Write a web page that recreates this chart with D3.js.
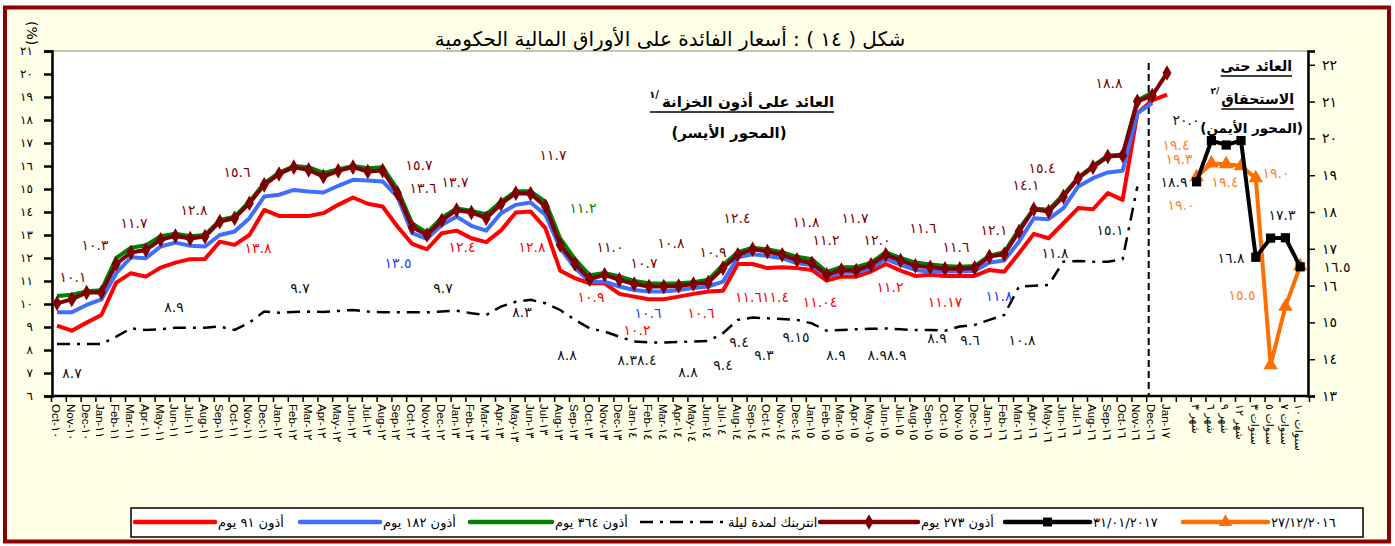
<!DOCTYPE html>
<html>
<head>
<meta charset="utf-8">
<script src="https://cdn.jsdelivr.net/npm/d3@7"></script>
<style>
  body { margin: 0; background: #fff; }
  svg { display: block; }
  text { font-family: "DejaVu Sans", sans-serif; }
</style>
</head>
<body>
<div id="chart"></div>
<script>
// ---- data ----
var months = [
  "Oct-١٠","Nov-١٠","Dec-١٠",
  "Jan-١١","Feb-١١","Mar-١١","Apr-١١","May-١١","Jun-١١","Jul-١١","Aug-١١","Sep-١١","Oct-١١","Nov-١١","Dec-١١",
  "Jan-١٢","Feb-١٢","Mar-١٢","Apr-١٢","May-١٢","Jun-١٢","Jul-١٢","Aug-١٢","Sep-١٢","Oct-١٢","Nov-١٢","Dec-١٢",
  "Jan-١٣","Feb-١٣","Mar-١٣","Apr-١٣","May-١٣","Jun-١٣","Jul-١٣","Aug-١٣","Sep-١٣","Oct-١٣","Nov-١٣","Dec-١٣",
  "Jan-١٤","Feb-١٤","Mar-١٤","Apr-١٤","May-١٤","Jun-١٤","Jul-١٤","Aug-١٤","Sep-١٤","Oct-١٤","Nov-١٤","Dec-١٤",
  "Jan-١٥","Feb-١٥","Mar-١٥","Apr-١٥","May-١٥","Jun-١٥","Jul-١٥","Aug-١٥","Sep-١٥","Oct-١٥","Nov-١٥","Dec-١٥",
  "Jan-١٦","Feb-١٦","Mar-١٦","Apr-١٦","May-١٦","Jun-١٦","Jul-١٦","Aug-١٦","Sep-١٦","Oct-١٦","Nov-١٦","Dec-١٦",
  "Jan-١٧"
];

// yield-curve maturities (right panel)
var maturities = ["شهر ٣","شهر ٦","شهر ٩","شهر ١٢","سنوات ٣","سنوات ٥","سنوات ٧","سنوات ١٠"];

// treasury bills (left axis, %)
var bill91 = [9.06,8.84,9.19,9.52,10.93,11.34,11.19,11.58,11.8,11.95,11.96,12.71,12.57,13.0,14.09,13.83,13.83,13.83,13.95,14.31,
  14.63,14.36,14.24,13.37,12.61,12.38,13.08,13.19,12.86,12.69,13.2,13.98,14.02,13.3,11.45,11.12,10.9,10.9,10.44,10.32,
  10.21,10.21,10.32,10.44,10.54,10.58,11.74,11.74,11.56,11.6,11.56,11.48,11.02,11.19,11.19,11.41,11.74,11.45,11.22,11.27,
  11.22,11.22,11.22,11.48,11.4,12.21,13.05,12.86,13.51,14.17,14.12,14.82,14.53,18.3,18.85,19.1];
var bill182 = [9.64,9.64,9.96,10.2,11.34,12.03,11.99,12.5,12.67,12.53,12.5,13.0,13.15,13.73,14.67,14.75,14.96,14.89,14.85,15.14,
  15.4,15.37,15.33,14.67,13.08,12.83,13.44,13.8,13.4,13.19,13.95,14.31,14.41,13.88,12.43,11.56,10.97,10.97,10.76,10.61,
  10.54,10.54,10.61,10.69,10.76,10.97,12.03,12.16,12.09,11.99,11.77,11.7,11.19,11.37,11.37,11.56,11.95,11.7,11.48,11.4,
  11.41,11.41,11.43,11.8,11.89,12.71,13.73,13.69,14.17,15.11,15.47,15.72,15.79,18.3,18.73,null];
var bill364 = [10.35,10.4,10.55,10.6,12.0,12.45,12.55,12.95,13.05,12.95,13.0,13.65,13.8,14.45,15.25,15.7,16.0,15.95,15.7,15.85,
  16.0,15.9,15.95,15.0,13.5,13.1,13.75,14.15,14.05,13.9,14.45,14.9,14.9,14.45,12.85,11.95,11.25,11.35,11.2,11.0,
  10.9,10.88,10.9,10.95,11.05,11.7,12.25,12.45,12.38,12.25,12.05,11.95,11.4,11.6,11.6,11.8,12.25,12.0,11.8,11.72,
  11.65,11.62,11.65,12.1,12.25,13.25,14.15,14.1,14.75,15.5,16.0,16.45,16.5,18.85,19.2,null];
var bill273 = [10.03,10.2,10.5,10.5,11.74,12.24,12.35,12.79,12.96,12.85,12.93,13.58,13.73,14.38,15.18,15.65,15.95,15.83,15.54,15.79,
  15.95,15.76,15.8,14.82,13.34,13.0,13.63,14.09,13.98,13.73,14.35,14.82,14.79,14.24,12.57,11.74,11.08,11.27,11.05,10.87,
  10.76,10.76,10.78,10.87,10.93,11.56,12.14,12.38,12.28,12.14,11.92,11.77,11.27,11.48,11.45,11.7,12.14,11.89,11.66,11.6,
  11.53,11.53,11.57,12.06,12.16,13.15,14.12,14.02,14.67,15.47,15.95,16.41,16.46,18.81,19.06,20.04];
var overnight = [8.26,8.26,8.26,8.26,8.58,8.94,8.87,8.9,8.97,8.97,8.97,9.02,8.87,9.19,9.67,9.62,9.65,9.67,9.65,9.7,
  9.74,9.67,9.64,9.64,9.64,9.64,9.67,9.71,9.6,9.52,9.89,10.1,10.18,10.03,9.74,9.31,8.94,8.8,8.58,8.37,
  8.33,8.33,8.35,8.37,8.39,8.73,9.31,9.41,9.38,9.35,9.31,9.16,8.84,8.87,8.9,8.92,8.94,8.9,8.87,8.87,
  8.84,9.02,9.09,9.31,9.52,10.76,10.79,10.83,11.84,11.87,11.84,11.84,11.95,15.11,null,null];

// yield to maturity (right axis, %)
var ytmDec2016 = [18.95,19.32,19.3,19.25,18.92,13.84,15.43,16.53];
var ytmJan2017 = [18.82,19.94,19.82,19.94,16.77,17.29,17.3,16.51];

// tick values
var leftTicks = [6,7,8,9,10,11,12,13,14,15,16,17,18,19,20,21];
var rightTicks = [13,14,15,16,17,18,19,20,21,22];

// value labels: [text, colour key, category position, value, axis]
var notes = [
  ["١٠.١","dr",1.08,10.96,"L"],["١٠.٣","dr",2.57,12.35,"L"],["١١.٧","dr",5.2,13.31,"L"],
  ["١٢.٨","dr",9.26,13.88,"L"],["١٥.٦","dr",12.16,15.53,"L"],["١٣.٨","red",13.58,12.22,"L"],
  ["٨.٩","blk",7.9,9.66,"L"],["٩.٧","blk",16.42,10.48,"L"],["٨.٧","blk",1.01,6.78,"L"],
  ["١٥.٧","dr",24.46,15.83,"L"],["١٣.٦","dr",24.73,14.83,"L"],["١٣.٧","dr",26.89,15.09,"L"],
  ["١٣.٥","blue",23.04,11.57,"L"],["١٢.٤","red",27.36,12.27,"L"],["٩.٧","blk",26.08,10.48,"L"],
  ["١١.٧","dr",33.51,16.27,"L"],["١١.٢","grn",35.54,13.96,"L"],["١٢.٨","red",32.09,12.27,"L"],
  ["٨.٣","blk",31.42,9.44,"L"],["١٠.٩","red",36.08,10.09,"L"],["٨.٨","blk",34.46,7.57,"L"],
  ["١١.٠","dr",37.36,12.27,"L"],["١٠.٨","dr",41.49,12.44,"L"],["١٠.٧","dr",39.66,11.57,"L"],
  ["١٠.٩","dr",44.32,12.05,"L"],["١٠.٦","blue",39.93,9.39,"L"],["١٠.٢","red",39.19,8.65,"L"],
  ["١٠.٦","red",43.51,9.39,"L"],["٨.٣٨.٤","blk",39.19,7.35,"L"],["٨.٨","blk",42.64,6.83,"L"],
  ["٩.٤","blk",45.0,7.13,"L"],["٩.٤","blk",46.08,8.13,"L"],["٩.٣","blk",47.77,7.57,"L"],
  ["٩.١٥","blk",49.93,8.35,"L"],["١٢.٤","dr",45.95,13.53,"L"],["١١.٦١١.٤","red",47.64,10.09,"L"],
  ["١١.٠٤","red",51.55,9.87,"L"],["١١.٨","dr",50.61,13.35,"L"],["١١.٧","dr",53.92,13.53,"L"],
  ["١١.٢","dr",51.96,12.57,"L"],["١٢.٠","dr",55.41,12.57,"L"],["١١.٦","dr",58.51,13.09,"L"],
  ["١١.٢","red",56.28,10.53,"L"],["١١.١٧","red",60.0,9.87,"L"],["٨.٩","blk",52.64,7.57,"L"],
  ["٨.٩٨.٩","blk",56.08,7.57,"L"],["٨.٩","blk",59.46,8.31,"L"],["٩.٦","blk",61.69,8.22,"L"],
  ["١١.٦","dr",60.74,12.27,"L"],["١٢.١","dr",63.31,13.01,"L"],["١٥.٤","dr",66.55,15.7,"L"],
  ["١٤.١","dr",65.47,14.96,"L"],["١٨.٨","dr",71.08,19.4,"L"],["١١.٨","blue",63.65,10.13,"L"],
  ["١١.٨","blk",67.43,12.0,"L"],["١٥.١","blk",71.15,13.01,"L"],["١٠.٨","blk",65.2,8.22,"L"],
  ["٢٠.٠","blk",76.28,20.36,"R"],["١٩.٤","org",75.61,19.68,"R"],["١٩.٣","org",75.81,19.3,"R"],
  ["١٨.٩","blk",75.47,18.68,"R"],["١٩.٠","org",75.95,18.05,"R"],["١٩.٤","org",78.92,18.68,"R"],
  ["١٩.٠","org",82.36,18.92,"R"],["١٧.٣","blk",82.77,17.78,"R"],["١٦.٨","blk",79.32,16.61,"R"],
  ["١٥.٥","org",80.07,15.61,"R"],["١٦.٥","blk",86.49,16.37,"R"]
];

var legendLabels = ["أذون ٩١ يوم","أذون ١٨٢ يوم","أذون ٣٦٤ يوم","انتربنك لمدة ليلة","أذون ٢٧٣ يوم","٣١/٠١/٢٠١٧","٢٧/١٢/٢٠١٦"];

// ---- styling ----
var colors = { red: "#FF0000", blue: "#3F6FFF", grn: "#008000", dr: "#7F0000", blk: "#000000", org: "#FF6F00" };
var noteColors = { red: "#FF0000", blue: "#1F3FFF", grn: "#008000", dr: "#800000", blk: "#111111", org: "#FF7F1F" };

var svgWidth = 1395, svgHeight = 546;
var plot = { left: 52, right: 1308, top: 51, bottom: 396 };

function ar(s) { return String(s).replace(/\d/g, function (d) { return "٠١٢٣٤٥٦٧٨٩"[d]; }); }

var svg = d3.select("#chart").append("svg")
  .attr("width", svgWidth)
  .attr("height", svgHeight);

// frame
svg.append("rect")
  .attr("x", 5).attr("y", 7.5)
  .attr("width", 1384).attr("height", 534)
  .attr("fill", "#FFFFE8")
  .attr("stroke", "#8B0000")
  .attr("stroke-width", 4);

svg.append("rect")
  .attr("x", plot.left).attr("y", plot.top)
  .attr("width", plot.right - plot.left).attr("height", plot.bottom - plot.top)
  .attr("fill", "#fff")
  .attr("stroke", "#8a8a8a")
  .attr("stroke-width", 1);

// scales
var nCats = months.length + 1 + maturities.length;
var xScale = d3.scalePoint().domain(d3.range(nCats)).range([57, 1300.2]);
var step = xScale.step();
var yLeft = d3.scaleLinear().domain([6, 21]).range([plot.bottom, plot.top]);
var yRight = d3.scaleLinear().domain([13, 22.375]).range([plot.bottom, plot.top]);
function xAt(p) { return xScale(0) + p * step; }

// title
svg.append("text")
  .attr("x", 670).attr("y", 46)
  .attr("text-anchor", "middle")
  .style("font-size", "20px")
  .text("شكل ( ١٤ ) : أسعار الفائدة على الأوراق المالية الحكومية");

svg.append("text")
  .attr("transform", "translate(27,21) rotate(90)")
  .style("font-size", "14px")
  .text("(%)");

// axes
var leftAxis = d3.axisLeft(yLeft).tickValues(leftTicks).tickSize(8).tickFormat(ar);
var gL = svg.append("g").attr("transform", "translate(" + plot.left + ",0)").call(leftAxis);
gL.select(".domain").attr("stroke-width", 2.5);
gL.selectAll(".tick line").attr("stroke-width", 2.5);
gL.selectAll(".tick text").attr("x", -19).style("font-size", "12px").style("font-family", "DejaVu Sans");

var rightAxis = d3.axisRight(yRight).tickValues(rightTicks).tickSize(7).tickFormat(ar);
var gR = svg.append("g").attr("transform", "translate(" + plot.right + ",0)").call(rightAxis);
gR.select(".domain").attr("stroke-width", 2.5);
gR.selectAll(".tick line").attr("stroke-width", 1.5);
gR.selectAll(".tick text").attr("x", 14).style("font-size", "14px").style("font-family", "DejaVu Sans");

// category axis
svg.append("line")
  .attr("x1", plot.left).attr("x2", plot.right)
  .attr("y1", plot.bottom).attr("y2", plot.bottom)
  .attr("stroke", "#000").attr("stroke-width", 2.5);

svg.append("g").selectAll("line")
  .data(d3.range(nCats + 1))
  .enter().append("line")
  .attr("x1", function (d) { return xAt(d) - 5.5; })
  .attr("x2", function (d) { return xAt(d) - 5.5; })
  .attr("y1", plot.bottom).attr("y2", plot.bottom + 6)
  .attr("stroke", "#000").attr("stroke-width", 1.5);

var catLabels = months.concat([""], maturities);
svg.append("g").selectAll("text")
  .data(catLabels)
  .enter().append("text")
  .attr("transform", function (d, i) { return "translate(" + (xScale(i) - 1) + "," + (plot.bottom + 8) + ") rotate(90)"; })
  .attr("dy", "0.35em")
  .style("font-size", function (d, i) { return i < months.length ? "11.5px" : "11px"; })
  .style("font-family", function (d, i) { return i < months.length ? "Liberation Sans, Arial" : "DejaVu Sans"; })
  .text(function (d) { return d; });

// dashed divider
svg.append("line")
  .attr("x1", xScale(74) - 3.5).attr("x2", xScale(74) - 3.5)
  .attr("y1", 63).attr("y2", plot.bottom)
  .attr("stroke", "#000").attr("stroke-width", 2)
  .attr("stroke-dasharray", "7,4");

// left-axis series
var lineL = d3.line()
  .defined(function (d) { return d != null; })
  .x(function (d, i) { return xScale(i); })
  .y(function (d) { return yLeft(d); });

svg.append("path").datum(overnight)
  .attr("d", lineL).attr("fill", "none")
  .attr("stroke", "#000").attr("stroke-width", 2.5)
  .attr("stroke-dasharray", "13,7,3,7");

[[bill91, colors.red], [bill182, colors.blue], [bill364, colors.grn], [bill273, colors.dr]].forEach(function (s) {
  svg.append("path").datum(s[0])
    .attr("d", lineL).attr("fill", "none")
    .attr("stroke", s[1]).attr("stroke-width", 4)
    .attr("stroke-linejoin", "round");
});

svg.append("g").selectAll("path")
  .data(bill273.map(function (v, i) { return [i, v]; }).filter(function (d) { return d[1] != null; }))
  .enter().append("path")
  .attr("d", d3.symbol().type(d3.symbolDiamond).size(70))
  .attr("transform", function (d) { return "translate(" + xScale(d[0]) + "," + yLeft(d[1]) + ")"; })
  .attr("fill", colors.dr);

// right-axis series
var offset = months.length + 1;
var lineR = d3.line()
  .x(function (d, i) { return xScale(offset + i); })
  .y(function (d) { return yRight(d); });

[[ytmDec2016, colors.org, d3.symbolTriangle, 90], [ytmJan2017, colors.blk, d3.symbolSquare, 85]].forEach(function (s) {
  svg.append("path").datum(s[0])
    .attr("d", lineR).attr("fill", "none")
    .attr("stroke", s[1]).attr("stroke-width", 4);
  svg.append("g").selectAll("path")
    .data(s[0])
    .enter().append("path")
    .attr("d", d3.symbol().type(s[2]).size(s[3]))
    .attr("transform", function (d, i) { return "translate(" + xScale(offset + i) + "," + yRight(d) + ")"; })
    .attr("fill", s[1]);
});

// value labels
svg.append("g").selectAll("text")
  .data(notes)
  .enter().append("text")
  .attr("x", function (d) { return xAt(d[2]); })
  .attr("y", function (d) { return d[4] === "L" ? yLeft(d[3]) : yRight(d[3]); })
  .attr("text-anchor", "middle")
  .style("font-size", "14px")
  .style("letter-spacing", "1px")
  .attr("fill", function (d) { return noteColors[d[1]]; })
  .text(function (d) { return d[0]; });

// heading inside plot: bills (left axis)
var h1 = svg.append("text")
  .attr("x", 748).attr("y", 107)
  .attr("text-anchor", "middle")
  .style("font-size", "15px").style("font-weight", "bold")
  .text("العائد على أذون الخزانة");
var w1 = h1.node().getComputedTextLength();
svg.append("line")
  .attr("x1", 748 - w1 / 2 - 12).attr("x2", 748 + w1 / 2)
  .attr("y1", 112).attr("y2", 112)
  .attr("stroke", "#000").attr("stroke-width", 1.5);
svg.append("text")
  .attr("x", 748 - w1 / 2 - 3).attr("y", 98)
  .attr("text-anchor", "end")
  .style("font-size", "10px").style("font-weight", "bold")
  .text("١/");
svg.append("text")
  .attr("x", 729).attr("y", 138)
  .attr("text-anchor", "middle")
  .style("font-size", "15px").style("font-weight", "bold")
  .text("(المحور الأيسر)");

// heading inside plot: yield to maturity (right axis)
var h2 = svg.append("text")
  .attr("x", 1292).attr("y", 71)
  .attr("text-anchor", "end")
  .style("font-size", "14px").style("font-weight", "bold")
  .text("العائد حتى");
var w2 = h2.node().getComputedTextLength();
svg.append("line")
  .attr("x1", 1292 - w2).attr("x2", 1292)
  .attr("y1", 76).attr("y2", 76)
  .attr("stroke", "#000").attr("stroke-width", 1.3);
var h3 = svg.append("text")
  .attr("x", 1294).attr("y", 104)
  .attr("text-anchor", "end")
  .style("font-size", "14px").style("font-weight", "bold")
  .text("الاستحقاق");
var w3 = h3.node().getComputedTextLength();
svg.append("line")
  .attr("x1", 1294 - w3).attr("x2", 1294)
  .attr("y1", 109).attr("y2", 109)
  .attr("stroke", "#000").attr("stroke-width", 1.3);
svg.append("text")
  .attr("x", 1294 - w3 - 2).attr("y", 94)
  .attr("text-anchor", "end")
  .style("font-size", "9px").style("font-weight", "bold")
  .text("٢/");
svg.append("text")
  .attr("x", 1303).attr("y", 133)
  .attr("text-anchor", "end")
  .style("font-size", "13.5px").style("font-weight", "bold")
  .text("(المحور الأيمن)");

// legend
var legendY = 522;
svg.append("rect")
  .attr("x", 131).attr("y", 508)
  .attr("width", 1232).attr("height", 29)
  .attr("fill", "#fff")
  .attr("stroke", "#000").attr("stroke-width", 1.5);

var legendKeys = [
  { c: colors.red, x1: 135, x2: 215 },
  { c: colors.blue, x1: 300, x2: 380 },
  { c: colors.grn, x1: 470, x2: 552 },
  { c: colors.blk, x1: 640, x2: 725, dash: "13,7,3,7", w: 2.5 },
  { c: colors.dr, x1: 820, x2: 918, sym: d3.symbolDiamond, s: 70 },
  { c: colors.blk, x1: 1005, x2: 1090, sym: d3.symbolSquare, s: 80 },
  { c: colors.org, x1: 1183, x2: 1268, sym: d3.symbolTriangle, s: 80 }
];

legendKeys.forEach(function (k, i) {
  svg.append("line")
    .attr("x1", k.x1).attr("x2", k.x2)
    .attr("y1", legendY).attr("y2", legendY)
    .attr("stroke", k.c).attr("stroke-width", k.w || 4.5)
    .attr("stroke-linecap", k.dash ? "butt" : "round")
    .attr("stroke-dasharray", k.dash || null);
  if (k.sym) {
    svg.append("path")
      .attr("d", d3.symbol().type(k.sym).size(k.s))
      .attr("transform", "translate(" + ((k.x1 + k.x2) / 2) + "," + legendY + ")")
      .attr("fill", k.c);
  }
  svg.append("text")
    .attr("x", k.x2 + 3).attr("y", legendY + 5)
    .style("font-size", "13px")
    .text(legendLabels[i]);
});
</script>
</body>
</html>
